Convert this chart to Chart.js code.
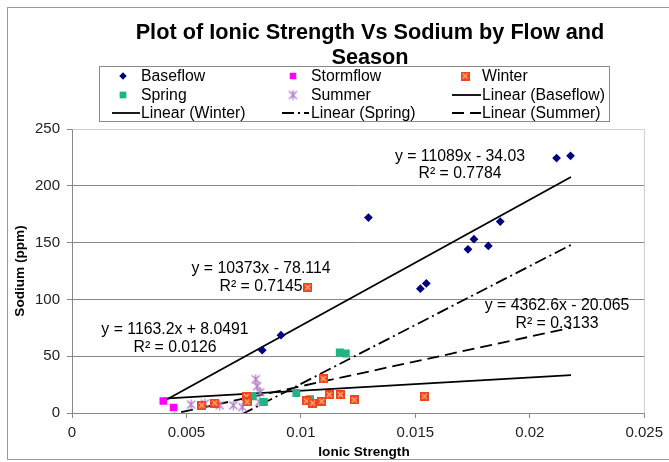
<!DOCTYPE html>
<html><head><meta charset="utf-8">
<script src="https://cdn.jsdelivr.net/npm/chart.js@4/dist/chart.umd.min.js"></script>
<style>html,body{margin:0;padding:0;background:#fff}canvas{display:block}</style>
</head><body><canvas id="c" width="669" height="462"></canvas>
<script>
// ---- data ----
const baseflowX = [0.00831, 0.00913, 0.01295, 0.01522, 0.01548, 0.01730, 0.01756, 0.01819, 0.01871, 0.02117, 0.02178];
const baseflowY = [55.3, 68.5, 172.0, 109.4, 114.1, 144.1, 153.0, 147.1, 168.5, 224.4, 226.4];
const stormflowX = [0.00399, 0.00444];
const stormflowY = [10.6, 4.8];
const winterX = [0.00567, 0.00624, 0.00762, 0.00765, 0.01025, 0.01030, 0.01051, 0.01091, 0.01098, 0.01124, 0.01173, 0.01233, 0.01539];
const winterY = [6.8, 8.8, 14.7, 9.7, 10.6, 110.6, 8.8, 10.3, 30.3, 16.2, 16.2, 11.5, 14.7];
const springX = [0.00789, 0.00838, 0.0098, 0.0104, 0.0117, 0.01196];
const springY = [14.7, 9.7, 17.6, 12.1, 53.3, 52.4];
const summerX = [0.0052, 0.00581, 0.00645, 0.00705, 0.00744, 0.00803, 0.00809, 0.00822, 0.00818];
const summerY = [7.4, 8.3, 6.8, 6.8, 5.3, 29.7, 23.6, 18.3, 9.7];

const trendNames = ['Linear (Baseflow)', 'Linear (Winter)', 'Linear (Spring)', 'Linear (Summer)'];
const trendSlope = [11089, 1163.2, 10373, 4362.6];
const trendIntercept = [-34.03, 8.0491, -78.114, -20.065];
const trendEquations = ['y = 11089x - 34.03', 'y = 1163.2x + 8.0491', 'y = 10373x - 78.114', 'y = 4362.6x - 20.065'];
const trendR2 = ['R\u00B2 = 0.7784', 'R\u00B2 = 0.0126', 'R\u00B2 = 0.7145', 'R\u00B2 = 0.3133'];
const trendStartX = 0.004;
const trendEndX = 0.0218;

const xTickLabels = ['0', '0.005', '0.01', '0.015', '0.02', '0.025'];
const yTickLabels = ['0', '50', '100', '150', '200', '250'];

const titleLines = ['Plot of Ionic Strength Vs Sodium by Flow and', 'Season'];
const xTitle = 'Ionic Strength';
const yTitle = 'Sodium (ppm)';

// ---- styles ----
const FONT = '"Liberation Sans", Arial, sans-serif';
function makeWinterMarker(){
  const c = document.createElement('canvas'); c.width = 9; c.height = 9;
  const g = c.getContext('2d');
  g.fillStyle = '#F0441C'; g.fillRect(0,0,9,9);
  g.strokeStyle = '#FFB27A'; g.lineWidth = 1.2;
  g.beginPath(); g.moveTo(2,2); g.lineTo(7,7); g.moveTo(7,2); g.lineTo(2,7); g.stroke();
  return c;
}
function makeSummerMarker(){
  const c = document.createElement('canvas'); c.width = 11; c.height = 11;
  const g = c.getContext('2d');
  g.strokeStyle = '#B07CC8'; g.lineWidth = 1.3;
  g.beginPath();
  g.moveTo(1.5,1.5); g.lineTo(9.5,9.5); g.moveTo(9.5,1.5); g.lineTo(1.5,9.5);
  g.moveTo(5.5,0.5); g.lineTo(5.5,10.5);
  g.stroke();
  return c;
}
const winterMarker = makeWinterMarker();
const summerMarker = makeSummerMarker();
const pts = (xs, ys) => xs.map((x, i) => ({x: x, y: ys[i]}));
const trendPts = i => [trendStartX, trendEndX].map(x => ({x: x, y: trendSlope[i] * x + trendIntercept[i]}));
const trendDash = [[], [], [12, 4, 2, 4], [12, 6]];

const datasets = [
  {label: 'Baseflow', data: pts(baseflowX, baseflowY), pointStyle: 'rectRot', pointRadius: 4.4, backgroundColor: '#000080', borderColor: '#000080', borderWidth: 0, showLine: false},
  {label: 'Stormflow', data: pts(stormflowX, stormflowY), pointStyle: 'rect', pointRadius: 5.4, backgroundColor: '#FF00FF', borderColor: '#FF00FF', borderWidth: 0, showLine: false},
  {label: 'Winter', data: pts(winterX, winterY), pointStyle: winterMarker, pointRadius: 5, showLine: false},
  {label: 'Spring', data: pts(springX, springY), pointStyle: 'rect', pointRadius: 5.6, backgroundColor: '#1DB584', borderColor: '#1DB584', borderWidth: 0, showLine: false},
  {label: 'Summer', data: pts(summerX, summerY), pointStyle: summerMarker, pointRadius: 5, showLine: false}
];
trendNames.forEach((n, i) => datasets.push({
  type: 'line', label: n, data: trendPts(i), borderColor: '#000', borderWidth: 1.8,
  borderDash: trendDash[i], pointRadius: 0, fill: false, clip: 0
}));

const decor = {
  id: 'decor',
  beforeDraw(chart){
    const g = chart.ctx;
    g.save();
    g.strokeStyle = '#9a9a9a'; g.lineWidth = 1;
    g.strokeRect(7.5, 7.5, 700, 452);
    g.restore();
  },
  beforeDatasetsDraw(chart){
    const a = chart.chartArea, g = chart.ctx;
    g.save();
    g.strokeStyle = '#cfcfcf'; g.lineWidth = 1;
    g.beginPath();
    g.moveTo(Math.round(a.left) + 0.5, Math.round(a.top) + 0.5);
    g.lineTo(Math.round(a.right) + 0.5, Math.round(a.top) + 0.5);
    g.lineTo(Math.round(a.right) + 0.5, Math.round(a.bottom) + 0.5);
    g.stroke();
    g.restore();
  },
  afterDraw(chart){
    const g = chart.ctx;
    g.save();
    g.fillStyle = '#000';
    g.textAlign = 'center'; g.textBaseline = 'middle';
    // title
    g.font = 'bold 21.7px ' + FONT;
    g.fillText(titleLines[0], 370, 33);
    g.fillText(titleLines[1], 370, 58);
    // axis titles
    g.font = 'bold 13.6px ' + FONT;
    g.fillText(xTitle, 364, 452);
    g.save(); g.translate(20, 271); g.rotate(-Math.PI / 2); g.fillText(yTitle, 0, 0); g.restore();
    // trendline labels
    g.font = '15.8px ' + FONT;
    const lab = [[460, 157, 174], [175, 330, 348], [261, 269, 287], [557, 306, 324]];
    lab.forEach((p, i) => { g.fillText(trendEquations[i], p[0], p[1]); g.fillText(trendR2[i], p[0], p[2]); });
    // legend
    g.strokeStyle = '#8a8a8a'; g.lineWidth = 1;
    g.strokeRect(99.5, 66.5, 510, 55);
    g.textAlign = 'left';
    g.font = '15.8px ' + FONT;
    const rows = [76, 95, 113];
    const items = [
      {t: 'Baseflow', kind: 'pt', ds: 0, mx: 123, tx: 141, r: 0},
      {t: 'Stormflow', kind: 'pt', ds: 1, mx: 293, tx: 311, r: 0},
      {t: 'Winter', kind: 'pt', ds: 2, mx: 465, tx: 482, r: 0},
      {t: 'Spring', kind: 'pt', ds: 3, mx: 123, tx: 141, r: 1},
      {t: 'Summer', kind: 'pt', ds: 4, mx: 293, tx: 311, r: 1},
      {t: trendNames[0], kind: 'ln', ds: 0, x0: 452, x1: 481, tx: 482, r: 1},
      {t: trendNames[1], kind: 'ln', ds: 1, x0: 112, x1: 140, tx: 141, r: 2},
      {t: trendNames[2], kind: 'ln', ds: 2, x0: 282, x1: 309, tx: 311, r: 2},
      {t: trendNames[3], kind: 'ln', ds: 3, x0: 452, x1: 481, tx: 482, r: 2}
    ];
    items.forEach(it => {
      const y = rows[it.r];
      if (it.kind === 'pt') {
        const d = datasets[it.ds];
        g.save();
        g.fillStyle = d.backgroundColor || '#000'; g.strokeStyle = d.borderColor || '#000'; g.lineWidth = 0;
        Chart.helpers.drawPoint(g, {pointStyle: d.pointStyle, radius: d.pointRadius * 0.85, borderWidth: 0}, it.mx, y);
        g.restore();
      } else {
        g.save();
        g.strokeStyle = '#000'; g.lineWidth = 1.8; g.setLineDash(trendDash[it.ds]);
        g.beginPath(); g.moveTo(it.x0, y); g.lineTo(it.x1, y); g.stroke();
        g.restore();
      }
      g.fillStyle = '#000';
      g.fillText(it.t, it.tx, y + 1);
    });
    g.restore();
  }
};

new Chart(document.getElementById('c'), {
  type: 'scatter',
  data: {datasets: datasets},
  plugins: [decor],
  options: {
    responsive: false, animation: false, devicePixelRatio: 1,
    layout: {padding: {top: 129, left: 0, right: 19, bottom: 0}},
    plugins: {legend: {display: false}, title: {display: false}, tooltip: {enabled: false}},
    scales: {
      x: {
        type: 'linear', min: 0, max: 0.025,
        afterFit: s => { s.height = 49; },
        ticks: {stepSize: 0.005, padding: 6, color: '#222', font: {family: FONT, size: 15},
          callback: (v, i) => xTickLabels[i] !== undefined ? xTickLabels[i] : v},
        grid: {drawOnChartArea: false, drawTicks: true, tickLength: 5, color: '#888'},
        border: {color: '#888'}
      },
      y: {
        type: 'linear', min: 0, max: 250,
        afterFit: s => { s.width = 72; },
        ticks: {stepSize: 50, padding: 7, color: '#222', font: {family: FONT, size: 15},
          callback: (v, i) => yTickLabels[i] !== undefined ? yTickLabels[i] : v},
        grid: {drawTicks: true, tickLength: 5, tickColor: '#888',
          color: c => (c.tick && c.tick.value === 250) ? 'rgba(0,0,0,0)' : '#888'},
        border: {color: '#888'}
      }
    }
  }
});
</script>
</body></html>
